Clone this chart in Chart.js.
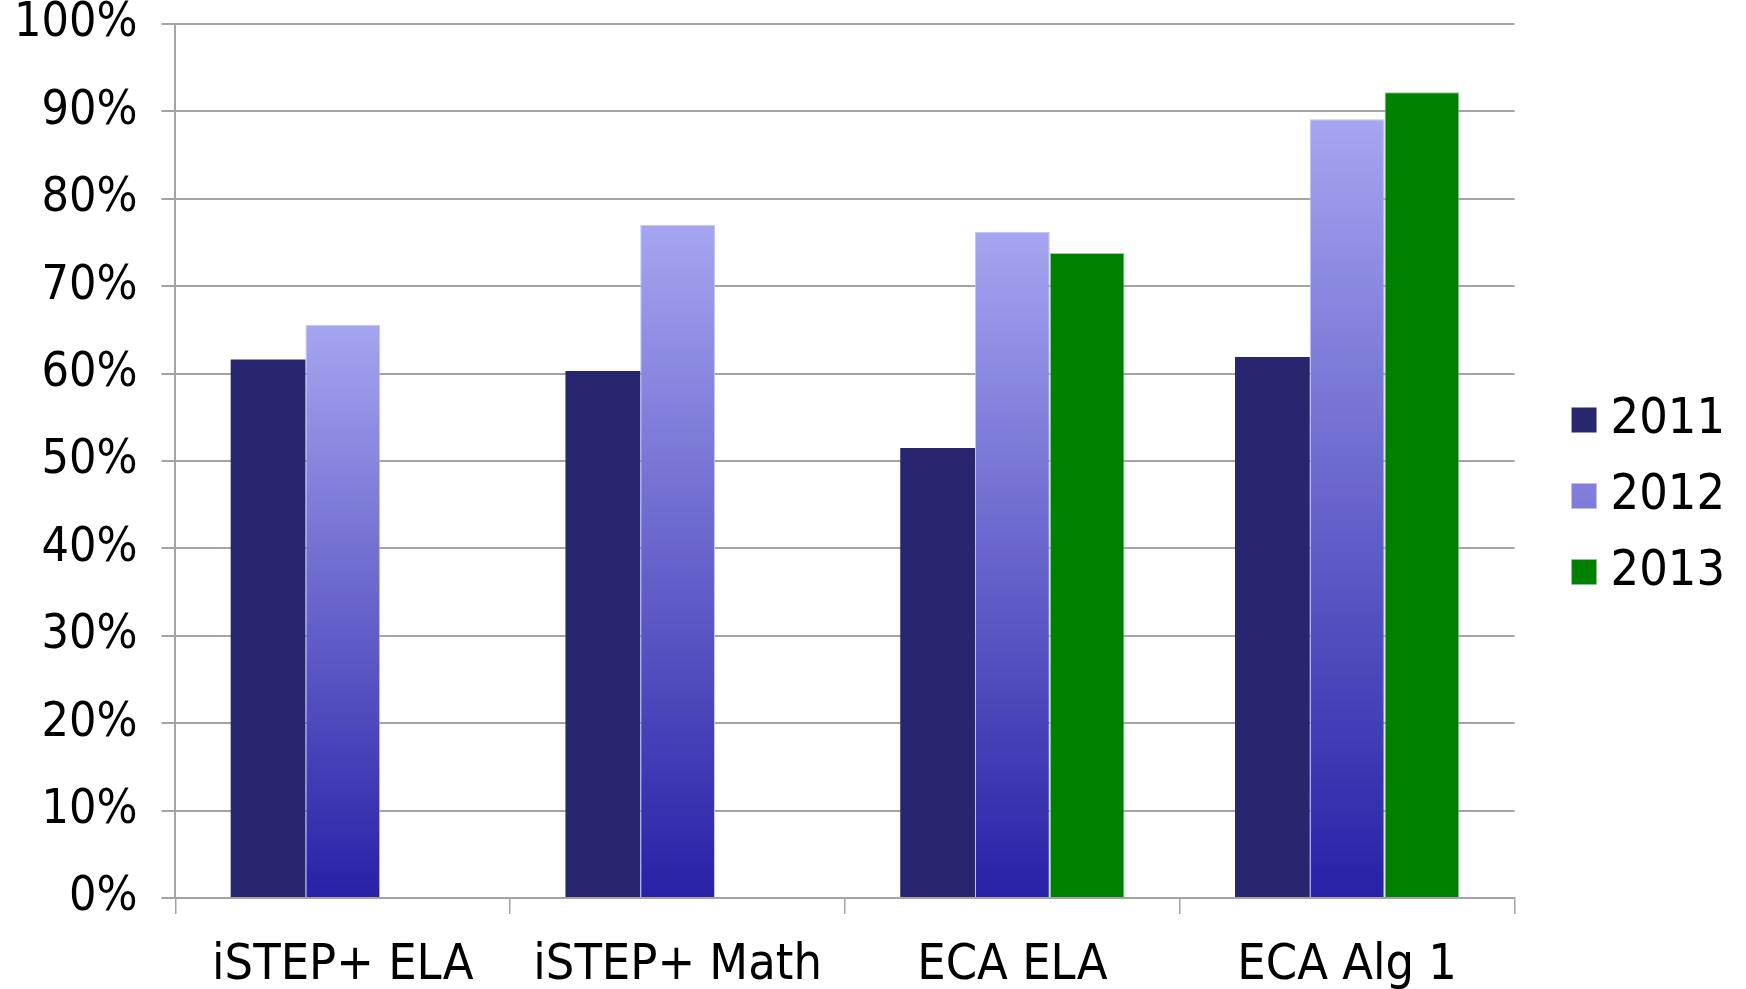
<!DOCTYPE html>
<html>
<head>
<meta charset="utf-8">
<script src="https://cdn.jsdelivr.net/npm/chart.js@4.4.0/dist/chart.umd.min.js"></script>
<style>
  html, body { margin: 0; padding: 0; background: #fff; }
  #wrap { width: 1746px; height: 989px; }
</style>
</head>
<body>
<div id="wrap"><canvas id="chart"></canvas></div>
<script>
// Chart data
const categories = ['iSTEP+ ELA', 'iSTEP+ Math', 'ECA ELA', 'ECA Alg 1'];
const years = ['2011', '2012', '2013'];
const values2011 = [61.6, 60.3, 51.5, 61.9];
const values2012 = [65.6, 77.0, 76.2, 89.1];
const values2013 = [null, null, 73.8, 92.2];
const yTicks = [0, 10, 20, 30, 40, 50, 60, 70, 80, 90, 100];

const FONT = '"DejaVu Sans Condensed", "DejaVu Sans", sans-serif';
const GRID = '#a4a4a4';

// 2012 bars fade from light lavender at the top to deep blue at the base
function gradient2012(context) {
    const chart = context.chart;
    if (context.type !== 'data' || !chart.chartArea) {
        return '#6462cb';
    }
    const y = chart.scales.y;
    const top = y.getPixelForValue(context.raw);
    const base = y.getPixelForValue(0);
    const g = chart.ctx.createLinearGradient(0, top, 0, base);
    g.addColorStop(0, '#a5a5f0');
    g.addColorStop(1, '#2820a6');
    return g;
}

// nudge the legend away from the plot, like the original
const legendShift = {
    id: 'legendShift',
    afterLayout(chart) {
        const lg = chart.legend;
        lg.left += 42;
        lg.right += 42;
        lg.top -= 13;
        lg.bottom -= 13;
    }
};

const ctx = document.getElementById('chart').getContext('2d');
new Chart(ctx, {
    type: 'bar',
    data: {
        labels: categories,
        datasets: [
            {
                label: years[0],
                data: values2011,
                backgroundColor: '#27266f'
            },
            {
                label: years[1],
                data: values2012,
                backgroundColor: gradient2012,
                borderColor: 'rgba(190,190,235,0.9)',
                borderWidth: { top: 1, left: 1, right: 1, bottom: 0 }
            },
            {
                label: years[2],
                data: values2013,
                backgroundColor: '#008000',
                borderColor: 'rgba(150,190,170,0.9)',
                borderWidth: { top: 1, left: 1, right: 1, bottom: 0 }
            }
        ]
    },
    plugins: [legendShift],
    options: {
        responsive: true,
        maintainAspectRatio: false,
        animation: false,
        layout: {
            padding: { left: -10, right: 53, top: 0, bottom: -29 }
        },
        datasets: {
            bar: {
                categoryPercentage: 0.67,
                barPercentage: 1.0
            }
        },
        scales: {
            x: {
                grid: {
                    drawOnChartArea: false,
                    color: GRID,
                    lineWidth: 1.5,
                    tickLength: 16
                },
                border: { display: true, color: GRID, width: 2 },
                ticks: {
                    color: '#000',
                    padding: 27,
                    font: { family: FONT, size: 50, lineHeight: 1.0 }
                }
            },
            y: {
                min: 0,
                max: 100,
                afterBuildTicks: axis => {
                    axis.ticks = yTicks.map(v => ({ value: v }));
                },
                grid: {
                    color: GRID,
                    lineWidth: 2,
                    tickLength: 14
                },
                border: { display: true, color: GRID, width: 2 },
                ticks: {
                    color: '#000',
                    padding: 24,
                    font: { family: FONT, size: 48, lineHeight: 0 },
                    callback: v => v + '%'
                }
            }
        },
        plugins: {
            legend: {
                position: 'right',
                labels: {
                    color: '#000',
                    usePointStyle: true,
                    pointStyle: 'rect',
                    boxWidth: 3,
                    boxHeight: 25,
                    padding: 26,
                    font: { family: FONT, size: 50 }
                }
            },
            tooltip: { enabled: false }
        }
    }
});
</script>
</body>
</html>
